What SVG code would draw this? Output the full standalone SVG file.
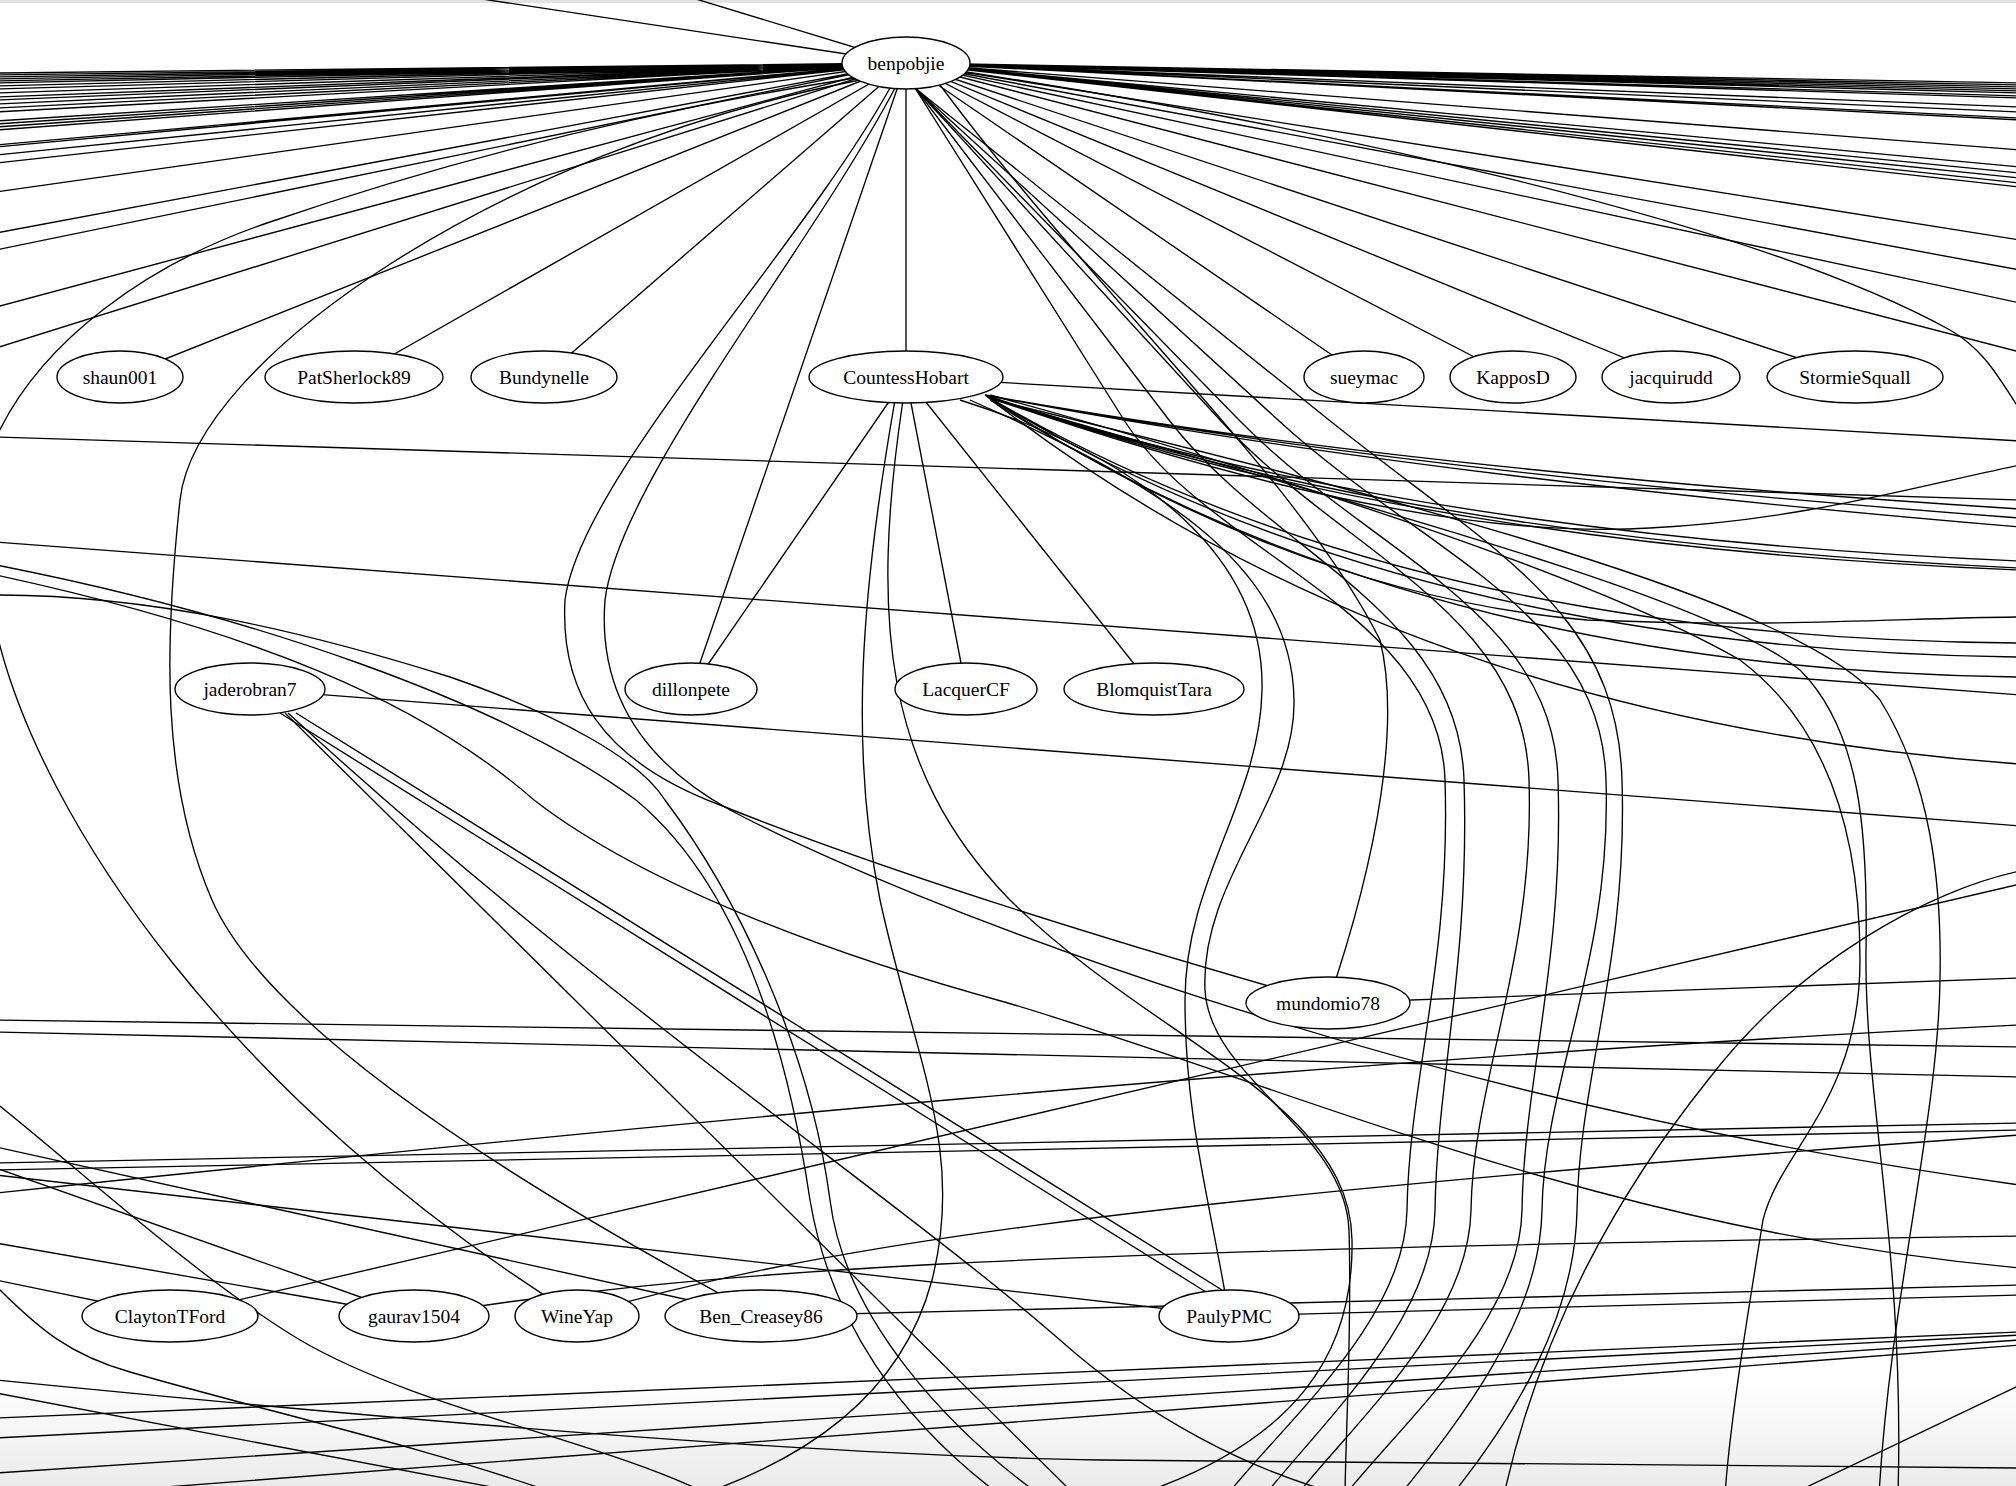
<svg xmlns="http://www.w3.org/2000/svg" width="2016" height="1486" viewBox="0 0 2016 1486">
<defs>
<linearGradient id="bot" x1="0" y1="0" x2="0" y2="1"><stop offset="0" stop-color="#ffffff"/><stop offset="1" stop-color="#ebebeb"/></linearGradient>
<style>
.edges path{fill:none;stroke:#000;stroke-width:1.35}
.node ellipse{fill:#fff;stroke:#000;stroke-width:1.4}
.node text{font-family:"Liberation Serif","Times New Roman",serif;font-size:19.5px;text-anchor:middle;fill:#000}
</style>
</defs>
<rect x="0" y="0" width="2016" height="1486" fill="#fff"/>
<rect x="0" y="1380" width="2016" height="106" fill="url(#bot)"/>
<rect x="0" y="0" width="2016" height="3" fill="#e2e2e2"/>
<g id="edges" class="edges">
<path d="M906,63 L462,-4 M906,63 L686,-4"/>
<path d="M906,63 L-4,73 M906,63 L-4,75 M906,63 L-4,77 M906,63 L-4,79 M906,63 L-4,81 M906,63 L-4,83 M906,63 L-4,86 M906,63 L-4,89 M906,63 L-4,93 M906,63 L-4,97 M906,63 L-4,100 M906,63 L-4,104 M906,63 L-4,108 M906,63 L-4,112 M906,63 L-4,121 M906,63 L-4,124 M906,63 L-4,127 M906,63 L-4,130 M906,63 L-4,145 M906,63 L-4,147 M906,63 L-4,155 M906,63 L-4,163 M906,63 L-4,192 M906,63 L-4,233 M906,63 L-4,250 M906,63 L-4,307 M906,63 L-4,348"/>
<path d="M906,63 L2020,83 M906,63 L2020,85 M906,63 L2020,87 M906,63 L2020,89 M906,63 L2020,91 M906,63 L2020,93 M906,63 L2020,96 M906,63 L2020,98 M906,63 L2020,107 M906,63 L2020,112 M906,63 L2020,118 M906,63 L2020,120 M906,63 L2020,150 M906,63 L2020,167 M906,63 L2020,173 M906,63 L2020,178 M906,63 L2020,183 M906,63 L2020,187 M906,63 L2020,240 M906,63 L2020,270 M906,63 L2020,303 M906,63 L2020,352"/>
<path d="M906,63 L120,377"/>
<path d="M906,63 L354,377"/>
<path d="M906,63 L544,377"/>
<path d="M906,63 L906,377"/>
<path d="M906,63 L1364,377"/>
<path d="M906,63 L1513,377"/>
<path d="M906,63 L1671,377"/>
<path d="M906,63 L1855,377"/>
<path d="M906,63 L691,689"/>
<path d="M906,63 C1300,120 1750,220 1950,330 C1985,350 2000,380 2020,410"/>
<path d="M855,78 C650,110 450,160 267,223 C150,263 40,340 -5,440"/>
<path d="M860,80 C500,150 195,360 180,500 C165,640 160,780 212,900 C260,1010 450,1150 761,1316"/>
<path d="M890,88 C800,250 580,480 565,600 C560,690 600,760 720,805 C820,845 1000,910 1328,1003"/>
<path d="M895,88 C810,250 620,480 605,600 C598,690 640,760 730,810 C900,900 1400,1100 2020,1185"/>
<path d="M940,85 C1100,300 1300,480 1380,640 C1400,720 1380,850 1328,1003"/>
<path d="M915,88 L1124,420 C1208,553 1440,610 1445,780 C1451,960 1409,1080 1407,1210 C1405,1320 1287,1420 1227,1495"/>
<path d="M915,88 L1169,420 C1271,553 1459,610 1464,780 C1470,960 1437,1080 1435,1210 C1433,1320 1325,1420 1265,1495"/>
<path d="M915,88 L1220,420 C1342,553 1524,610 1529,780 C1535,960 1473,1080 1471,1210 C1469,1320 1357,1420 1297,1495"/>
<path d="M915,88 L1239,420 C1369,553 1553,610 1558,780 C1564,960 1524,1080 1522,1210 C1520,1320 1405,1420 1345,1495"/>
<path d="M915,88 L1278,420 C1423,553 1601,610 1606,780 C1612,960 1544,1080 1542,1210 C1540,1320 1460,1420 1400,1495"/>
<path d="M915,88 L1329,420 C1495,553 1617,610 1622,780 C1628,960 1579,1080 1577,1210 C1575,1320 1512,1420 1452,1495"/>
<path d="M906,377 L691,689"/>
<path d="M906,377 L966,689"/>
<path d="M906,377 L1154,689"/>
<path d="M906,377 L2020,441"/>
<path d="M985,395 Q1400,470 2020,509 M985,395 Q1400,472 2020,518 M985,395 Q1400,475 2020,527 M985,395 Q1400,535 2020,561 M985,395 Q1400,540 2020,568 M985,395 Q1400,545 2020,570 M985,395 Q1400,640 2020,643 M985,395 Q1400,650 2020,657 M985,395 Q1400,670 2020,677 M985,395 Q1400,720 2020,764"/>
<path d="M990,398 C1200,470 1450,540 1650,528 C1800,520 1900,490 2020,465"/>
<path d="M990,400 C1150,500 1350,600 1587,620 C1780,628 1900,618 2020,617"/>
<path d="M990,395 C1300,480 1600,580 1740,660 C1820,720 1860,820 1860,960 C1860,1100 1780,1150 1763,1220 C1750,1300 1730,1420 1725,1495"/>
<path d="M990,398 C1300,490 1700,590 1800,670 C1860,730 1868,830 1866,950 C1864,1100 1905,1250 1898,1495"/>
<path d="M995,400 C1400,500 1800,600 1880,700 C1930,780 1942,880 1940,980 C1938,1120 1890,1300 1879,1495"/>
<path d="M960,400 C1150,460 1265,560 1262,690 C1260,800 1185,880 1185,1000 C1185,1120 1210,1200 1229,1316"/>
<path d="M970,400 C1150,480 1292,560 1294,700 C1296,800 1200,880 1205,990 C1210,1080 1345,1130 1349,1230 C1352,1330 1346,1420 1345,1495"/>
<path d="M895,400 C860,600 850,750 880,900 C915,1060 965,1150 932,1280 C900,1400 800,1460 700,1495"/>
<path d="M903,400 C870,620 885,770 1008,898 C1150,1040 1350,1100 1352,1240 C1354,1350 1300,1440 1137,1495"/>
<path d="M-4,437 L2020,500"/>
<path d="M-4,542 L2020,695"/>
<path d="M250,689 L2020,826"/>
<path d="M-4,565 C250,615 500,700 636,800 C720,870 780,1000 810,1200 C830,1320 900,1420 1000,1495"/>
<path d="M-4,575 C250,630 420,700 534,800 C650,890 850,960 1008,1003 C1300,1090 1600,1230 2020,1268"/>
<path d="M-4,595 C150,595 300,630 450,677 C560,715 640,760 665,800 C740,900 810,1050 830,1200 C845,1320 950,1430 1040,1495"/>
<path d="M285,713 L1075,1495"/>
<path d="M288,713 C600,1000 900,1200 1060,1340 C1150,1420 1250,1470 1342,1495"/>
<path d="M280,713 L1206,1292"/>
<path d="M296,713 L1222,1290"/>
<path d="M-4,630 C40,820 230,1100 577,1316"/>
<path d="M1328,1003 L2020,978"/>
<path d="M-4,1020 L2020,1047"/>
<path d="M-4,1032 L2020,1077"/>
<path d="M-4,1193 C600,1130 1300,1060 2020,1025"/>
<path d="M-4,1163 L2020,1123"/>
<path d="M-4,1170 L2020,1130"/>
<path d="M170,1316 L2020,884"/>
<path d="M577,1316 C800,1250 1100,1200 2020,1135"/>
<path d="M414,1316 C700,1270 1000,1250 2020,1236"/>
<path d="M761,1316 L2020,1285"/>
<path d="M1229,1316 L2020,1295"/>
<path d="M-4,1175 L1229,1316"/>
<path d="M-4,1168 L414,1316"/>
<path d="M-4,1243 L414,1316"/>
<path d="M-4,1280 L170,1316"/>
<path d="M-4,1147 L761,1316"/>
<path d="M-4,1103 C80,1170 200,1280 300,1340 C420,1410 600,1440 710,1495"/>
<path d="M-4,1286 C40,1330 70,1355 130,1372 C260,1410 420,1445 560,1495"/>
<path d="M-4,1418 L2020,1332 M-4,1438 L2020,1335 M-4,1473 L2020,1340 M-4,1500 L2020,1345"/>
<path d="M-4,1380 C400,1420 800,1455 1100,1460 C1500,1465 1800,1466 2020,1468"/>
<path d="M-4,1393 L560,1500"/>
<path d="M1790,1495 L2020,1385"/>
<path d="M2020,871 C1930,890 1800,960 1708,1080 C1620,1190 1540,1330 1504,1495"/>
</g>
<g id="node-benpobjie" class="node"><ellipse cx="906" cy="63" rx="64" ry="26"/><text x="906" y="70">benpobjie</text></g>
<g id="node-shaun001" class="node"><ellipse cx="120" cy="377" rx="63" ry="26"/><text x="120" y="384">shaun001</text></g>
<g id="node-PatSherlock89" class="node"><ellipse cx="354" cy="377" rx="89" ry="26"/><text x="354" y="384">PatSherlock89</text></g>
<g id="node-Bundynelle" class="node"><ellipse cx="544" cy="377" rx="73" ry="26"/><text x="544" y="384">Bundynelle</text></g>
<g id="node-CountessHobart" class="node"><ellipse cx="906" cy="377" rx="97" ry="26"/><text x="906" y="384">CountessHobart</text></g>
<g id="node-sueymac" class="node"><ellipse cx="1364" cy="377" rx="60" ry="26"/><text x="1364" y="384">sueymac</text></g>
<g id="node-KapposD" class="node"><ellipse cx="1513" cy="377" rx="63" ry="26"/><text x="1513" y="384">KapposD</text></g>
<g id="node-jacquirudd" class="node"><ellipse cx="1671" cy="377" rx="69" ry="26"/><text x="1671" y="384">jacquirudd</text></g>
<g id="node-StormieSquall" class="node"><ellipse cx="1855" cy="377" rx="88" ry="26"/><text x="1855" y="384">StormieSquall</text></g>
<g id="node-jaderobran7" class="node"><ellipse cx="250" cy="689" rx="75" ry="26"/><text x="250" y="696">jaderobran7</text></g>
<g id="node-dillonpete" class="node"><ellipse cx="691" cy="689" rx="66" ry="26"/><text x="691" y="696">dillonpete</text></g>
<g id="node-LacquerCF" class="node"><ellipse cx="966" cy="689" rx="71" ry="26"/><text x="966" y="696">LacquerCF</text></g>
<g id="node-BlomquistTara" class="node"><ellipse cx="1154" cy="689" rx="90" ry="26"/><text x="1154" y="696">BlomquistTara</text></g>
<g id="node-mundomio78" class="node"><ellipse cx="1328" cy="1003" rx="82" ry="26"/><text x="1328" y="1010">mundomio78</text></g>
<g id="node-ClaytonTFord" class="node"><ellipse cx="170" cy="1316" rx="88" ry="26"/><text x="170" y="1323">ClaytonTFord</text></g>
<g id="node-gaurav1504" class="node"><ellipse cx="414" cy="1316" rx="75" ry="26"/><text x="414" y="1323">gaurav1504</text></g>
<g id="node-WineYap" class="node"><ellipse cx="577" cy="1316" rx="62" ry="26"/><text x="577" y="1323">WineYap</text></g>
<g id="node-Ben_Creasey86" class="node"><ellipse cx="761" cy="1316" rx="96" ry="26"/><text x="761" y="1323">Ben_Creasey86</text></g>
<g id="node-PaulyPMC" class="node"><ellipse cx="1229" cy="1316" rx="70" ry="26"/><text x="1229" y="1323">PaulyPMC</text></g>
</svg>
